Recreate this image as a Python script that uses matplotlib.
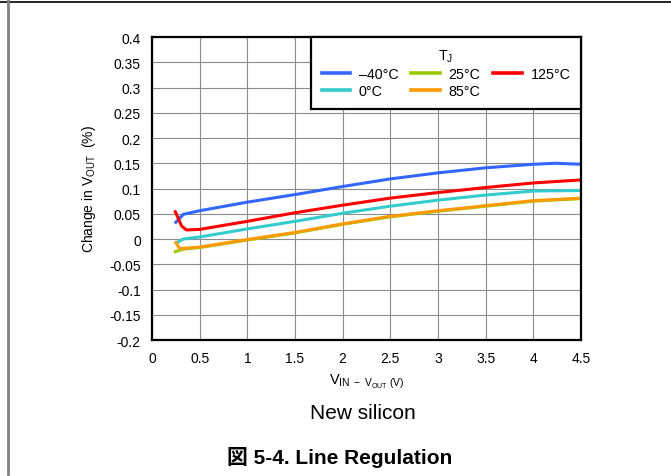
import matplotlib
matplotlib.use("Agg")
import matplotlib.pyplot as plt
from matplotlib.lines import Line2D

plt.rcParams['font.family'] = ['Liberation Sans', 'Noto Sans CJK JP', 'DejaVu Sans']
plt.rcParams['mathtext.fontset'] = 'custom'
plt.rcParams['mathtext.rm'] = 'Liberation Sans'
plt.rcParams['mathtext.it'] = 'Liberation Sans'

# values
x_m40 = [0.25, 0.33, 0.5, 1.0, 1.5, 2.0, 2.5, 3.0, 3.5, 4.0, 4.23, 4.5]
y_m40 = [0.033, 0.049, 0.056, 0.073, 0.088, 0.104, 0.119, 0.131, 0.141, 0.148, 0.150, 0.148]

x_125 = [0.245, 0.31, 0.36, 0.5, 1.0, 1.5, 2.0, 2.5, 3.0, 3.5, 4.0, 4.5]
y_125 = [0.054, 0.026, 0.018, 0.019, 0.035, 0.052, 0.067, 0.081, 0.092, 0.102, 0.111, 0.117]

x_0 = [0.26, 0.33, 0.5, 1.0, 1.5, 2.0, 2.5, 3.0, 3.5, 4.0, 4.5]
y_0 = [-0.007, 0.000, 0.004, 0.020, 0.035, 0.051, 0.065, 0.077, 0.087, 0.095, 0.096]

x_25 = [0.245, 0.33, 0.5, 1.0, 1.5, 2.0, 2.5, 3.0, 3.5, 4.0, 4.5]
y_25 = [-0.025, -0.020, -0.017, -0.002, 0.012, 0.029, 0.044, 0.055, 0.065, 0.075, 0.080]

x_85 = [0.25, 0.29, 0.5, 1.0, 1.5, 2.0, 2.5, 3.0, 3.5, 4.0, 4.5]
y_85 = [-0.007, -0.019, -0.016, -0.001, 0.013, 0.030, 0.045, 0.056, 0.066, 0.076, 0.081]

xticks = [0, 0.5, 1, 1.5, 2, 2.5, 3, 3.5, 4, 4.5]
xtick_labels = ['0', '0.5', '1', '1.5', '2', '2.5', '3', '3.5', '4', '4.5']
yticks = [-0.2, -0.15, -0.1, -0.05, 0, 0.05, 0.1, 0.15, 0.2, 0.25, 0.3, 0.35, 0.4]
ytick_labels = ['-0.2', '-0.15', '-0.1', '-0.05', '0', '0.05', '0.1', '0.15',
                '0.2', '0.25', '0.3', '0.35', '0.4']

COLORS = {'m40': '#3366ff', '0': '#33cccc', '25': '#99cc00', '85': '#ff9900', '125': '#ff0000'}
LABELS = {'m40': '\u201340°C', '0': '0°C', '25': '25°C', '85': '85°C', '125': '125°C'}

fig = plt.figure(figsize=(6.71, 4.77), dpi=100)
ax = fig.add_axes([0.2265, 0.2851, 0.6394, 0.6352])

lw = 2.2
ax.plot(x_m40, y_m40, color=COLORS['m40'], lw=lw)
ax.plot(x_25, y_25, color=COLORS['25'], lw=lw)
ax.plot(x_125, y_125, color=COLORS['125'], lw=lw)
ax.plot(x_0, y_0, color=COLORS['0'], lw=lw)
ax.plot(x_85, y_85, color=COLORS['85'], lw=lw)

ax.set_xlim(0, 4.5)
ax.set_ylim(-0.2, 0.4)
ax.set_xticks(xticks)
ax.set_xticklabels(xtick_labels)
ax.set_yticks(yticks)
ax.set_yticklabels(ytick_labels)
ax.tick_params(length=0, labelsize=10, pad=8)
ax.tick_params(axis='x', pad=8)
ax.grid(True, color='#8c8c8c', lw=0.8)
ax.set_axisbelow(True)
for s in ax.spines.values():
    s.set_linewidth(1.6)
    s.set_color('black')

ax.set_ylabel(r'Change in V$_{\mathrm{OUT}}$  (%)', fontsize=10, labelpad=8)
ax.set_xlabel(r'V$_{\mathrm{IN\ -\ V_{OUT}\ (V)}}$', fontsize=10.5, labelpad=5)

order = ['m40', '0', '25', '85', '125']
handles = [Line2D([], [], color=COLORS[k], lw=2.6) for k in order]
leg = ax.legend(handles, [LABELS[k] for k in order], ncol=3, title=r'T$_{\mathrm{J}}$',
                loc='upper right', bbox_to_anchor=(1.0, 1.0), fontsize=10.3,
                title_fontsize=10.3, frameon=True, fancybox=False, framealpha=1,
                edgecolor='black', handlelength=2.0, handletextpad=0.6,
                columnspacing=0.9, labelspacing=0.2, borderpad=0.75,
                borderaxespad=0)
leg.get_frame().set_linewidth(1.6)

fig.text(363 / 671, 1 - 414 / 477, 'New silicon', ha='center', va='center', fontsize=15)
fig.text(340 / 671, 1 - 458 / 477, '図 5-4. Line Regulation', ha='center', va='center',
         fontsize=15, fontweight='bold')

fig.add_artist(Line2D([0, 1], [1 - 3 / 477, 1 - 3 / 477], color='black', lw=1.2,
                      transform=fig.transFigure))
fig.add_artist(Line2D([8 / 671, 8 / 671], [1 - 475 / 477, 1], color='#808080', lw=2,
                      transform=fig.transFigure))

fig.savefig('out.png', dpi=100)
